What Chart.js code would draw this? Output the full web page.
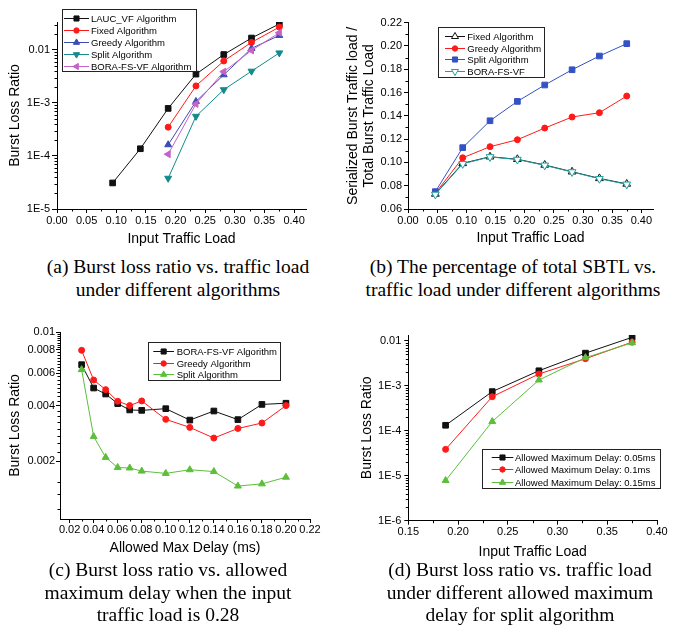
<!DOCTYPE html>
<html>
<head>
<meta charset="utf-8">
<script src="https://cdn.jsdelivr.net/npm/chart.js@4.4.1/dist/chart.umd.min.js"></script>
<style>
  body { margin: 0; background: #fff; width: 676px; height: 627px; position: relative; overflow: hidden; }
  .panel { position: absolute; }
  .cap { position: absolute; width: 340px; text-align: center; color: #000; white-space: nowrap;
         font: 19.5px/22.5px "Liberation Serif", "Times New Roman", serif; }
</style>
</head>
<body>
<canvas id="chartA" class="panel" width="338" height="252" style="left:0;top:0"></canvas>
<canvas id="chartB" class="panel" width="338" height="252" style="left:338px;top:0"></canvas>
<canvas id="chartC" class="panel" width="338" height="245" style="left:0;top:318px"></canvas>
<canvas id="chartD" class="panel" width="338" height="245" style="left:338px;top:318px"></canvas>

<div class="cap" style="left:8px;top:256px">(a) Burst loss ratio vs. traffic load<br>under different algorithms</div>
<div class="cap" style="left:343px;top:256px">(b) The percentage of total SBTL vs.<br>traffic load under different algorithms</div>
<div class="cap" style="left:-2px;top:559px">(c) Burst loss ratio vs. allowed<br>maximum delay when the input<br>traffic load is 0.28</div>
<div class="cap" style="left:350px;top:559px">(d) Burst loss ratio vs. traffic load<br>under different allowed maximum<br>delay for split algorithm</div>

<script>
// ---- data ----
const loadLauc = [0.0938, 0.1406, 0.1875, 0.2344, 0.2813, 0.3281, 0.375];
const loadHigh = [0.1875, 0.2344, 0.2813, 0.3281, 0.375];
const loadAll = [0.0469, 0.0938, 0.1406, 0.1875, 0.2344, 0.2813, 0.3281, 0.375];
const delays = [0.03, 0.04, 0.05, 0.06, 0.07, 0.08, 0.10, 0.12, 0.14, 0.16, 0.18, 0.20];

// (a) burst loss ratio vs load
const laucLoss = [3.1e-5, 1.37e-4, 7.9e-4, 3.5e-3, 8.2e-3, 0.0168, 0.031];
const fixedLoss = [3.5e-4, 2.1e-3, 6.2e-3, 0.0139, 0.027];
const greedyLoss = [1.63e-4, 1.07e-3, 3.4e-3, 0.0107, 0.0188];
const splitLoss = [3.8e-5, 5.6e-4, 1.78e-3, 3.98e-3, 8.8e-3];
const boraLoss = [1.08e-4, 9.6e-4, 3.9e-3, 9.8e-3, 0.0211];

// (b) serialized / total burst traffic load
const fixedShare = [0.0729, 0.0992, 0.1049, 0.1027, 0.0978, 0.0920, 0.0863, 0.0815];
const greedyShare = [0.0735, 0.1040, 0.1135, 0.1195, 0.1295, 0.1390, 0.1427, 0.1570];
const splitShare = [0.0749, 0.1127, 0.1358, 0.1524, 0.1665, 0.1796, 0.1914, 0.2020];
const boraShare = [0.0725, 0.0988, 0.1047, 0.1025, 0.0975, 0.0918, 0.0860, 0.0812];

// (c) burst loss ratio vs allowed max delay
const boraDelay = [0.00666, 0.00498, 0.00462, 0.0041, 0.00379, 0.00377, 0.00385, 0.00334, 0.00374, 0.00336, 0.00406, 0.00412];
const greedyDelay = [0.00796, 0.0055, 0.00488, 0.00422, 0.0040, 0.00424, 0.00337, 0.00305, 0.00267, 0.00301, 0.00322, 0.0040];
const splitDelay = [0.00626, 0.00272, 0.0021, 0.00185, 0.00184, 0.00177, 0.00172, 0.0018, 0.00176, 0.00147, 0.00151, 0.00164];

// (d) split algorithm, different allowed delays
const delay005 = [1.32e-4, 7.4e-4, 2.15e-3, 5.3e-3, 0.0119];
const delay010 = [3.85e-5, 5.7e-4, 1.82e-3, 3.98e-3, 9.3e-3];
const delay015 = [7.8e-6, 1.6e-4, 1.34e-3, 4.2e-3, 9.0e-3];

// ---- ticks ----
const loadTicks = [0, 0.05, 0.10, 0.15, 0.20, 0.25, 0.30, 0.35, 0.40];
const loadTicksD = [0.15, 0.20, 0.25, 0.30, 0.35, 0.40];
const delayTicks = [0.02, 0.04, 0.06, 0.08, 0.10, 0.12, 0.14, 0.16, 0.18, 0.20, 0.22];
const shareTicks = [0.06, 0.08, 0.10, 0.12, 0.14, 0.16, 0.18, 0.20, 0.22];
const lossTicksA = [1e-5, 1e-4, 1e-3, 0.01];
const lossLabelsA = ['1E-5', '1E-4', '1E-3', '0.01'];
const lossTicksD = [1e-6, 1e-5, 1e-4, 1e-3, 0.01];
const lossLabelsD = ['1E-6', '1E-5', '1E-4', '1E-3', '0.01'];
const delayLossTicks = [0.002, 0.004, 0.006, 0.008, 0.01];
const delayLossLabels = ['0.002', '0.004', '0.006', '0.008', '0.01'];

const fix2 = arr => arr.map(v => v.toFixed(2));

// minor tick helpers
function between(from, to, step) {
  const out = [];
  for (let v = from; v <= to + 1e-9; v += step) out.push(+v.toFixed(5));
  return out;
}
function logMinor(lo, hi) {
  const out = [];
  for (let d = lo; d < hi; d *= 10) for (let k = 2; k <= 9; k++) if (k * d <= hi) out.push(k * d);
  return out;
}

const FONT = '"Liberation Sans", Arial, sans-serif';
Chart.defaults.font.family = FONT;
Chart.defaults.color = '#000';

// legend box drawn inside the plot like Origin does
function boxLegend(g) {
  return {
    id: 'boxLegend',
    afterDraw(chart) {
      const ctx = chart.ctx;
      ctx.save();
      ctx.fillStyle = '#fff';
      ctx.fillRect(g.x, g.y, g.w, g.h);
      ctx.strokeStyle = '#222';
      ctx.lineWidth = 1;
      ctx.strokeRect(Math.round(g.x) + 0.5, Math.round(g.y) + 0.5, Math.round(g.w), Math.round(g.h));
      ctx.font = '9.5px ' + FONT;
      ctx.textBaseline = 'middle';
      chart.data.datasets.forEach((ds, i) => {
        const y = Math.round(g.y + g.first + i * g.gap) + 0.5;
        ctx.strokeStyle = ds.borderColor;
        ctx.lineWidth = 1;
        ctx.beginPath();
        ctx.moveTo(g.x + g.l1, y);
        ctx.lineTo(g.x + g.l2, y);
        ctx.stroke();
        ctx.fillStyle = ds.pointBackgroundColor;
        ctx.strokeStyle = ds.pointBorderColor;
        Chart.helpers.drawPoint(ctx, {
          pointStyle: ds.pointStyle, rotation: ds.pointRotation || 0,
          radius: ds.pointRadius * 0.9, borderWidth: 1
        }, g.x + (g.l1 + g.l2) / 2, y);
        ctx.fillStyle = '#000';
        ctx.fillText(ds.label, g.x + g.tx, y + 0.5);
      });
      ctx.restore();
    }
  };
}

function minorTicks(xs, ys) {
  return {
    id: 'minorTicks',
    afterDraw(chart) {
      const ctx = chart.ctx, sx = chart.scales.x, sy = chart.scales.y;
      ctx.save();
      ctx.strokeStyle = '#000';
      ctx.lineWidth = 1;
      ctx.beginPath();
      xs.forEach(v => {
        const p = Math.round(sx.getPixelForValue(v)) + 0.5;
        ctx.moveTo(p, sx.top); ctx.lineTo(p, sx.top + 2.5);
      });
      ys.forEach(v => {
        const p = Math.round(sy.getPixelForValue(v)) + 0.5;
        ctx.moveTo(sy.right, p); ctx.lineTo(sy.right - 2.5, p);
      });
      ctx.stroke();
      ctx.restore();
    }
  };
}

function axis(o) {
  return {
    type: o.type || 'linear',
    position: o.pos,
    min: o.min, max: o.max,
    bounds: 'data',
    afterBuildTicks: s => { s.ticks = o.ticks.map(v => ({ value: v })); },
    afterFit: s => { if (o.pos === 'left') s.width = o.size; else s.height = o.size; },
    grid: { display: true, drawOnChartArea: false, drawTicks: true, tickLength: o.tick, color: '#000', lineWidth: 1 },
    border: { display: true, color: '#000', width: 1 },
    ticks: {
      autoSkip: false, maxRotation: 0, minRotation: 0, padding: o.pad, color: '#000',
      font: { family: FONT, size: 11 },
      callback: (v, i) => o.labels[i]
    },
    title: {
      display: true, text: o.title, color: '#000',
      font: { family: FONT, size: 14, lineHeight: 1.2 },
      padding: { top: o.titlePad, bottom: o.titlePad }
    }
  };
}

function series(label, xs, ys, color, style, extra) {
  return Object.assign({
    label,
    data: xs.map((x, i) => ({ x, y: ys[i] })),
    borderColor: color, backgroundColor: color, borderWidth: 1,
    pointStyle: style, pointRadius: 3.5, pointRotation: 0,
    pointBackgroundColor: color, pointBorderColor: color, pointBorderWidth: 1,
    tension: 0, fill: false
  }, extra || {});
}

function makeChart(id, datasets, xAxis, yAxis, pad, legend, minor) {
  datasets.forEach((d, i) => { d.order = -i; });
  return new Chart(document.getElementById(id), {
    type: 'line',
    data: { datasets },
    options: {
      responsive: false, animation: false, events: [],
      layout: { padding: { top: pad.top, right: pad.right, left: 0, bottom: 0 } },
      scales: { x: axis(xAxis), y: axis(yAxis) },
      plugins: { legend: { display: false }, tooltip: { enabled: false } }
    },
    plugins: [minorTicks(minor.x, minor.y), boxLegend(legend)]
  });
}

const BLACK = '#111111', RED = '#ff1a1a', BLUE = '#3a4cb4', TEAL = '#138b8b',
      MAGENTA = '#c462c8', BLUE_B = '#3452c4', TEAL_B = '#1fa0a0', GREEN = '#5cbf3c';

// (a)
makeChart('chartA', [
  series('LAUC_VF Algorithm', loadLauc, laucLoss, BLACK, 'rect', { pointRadius: 4 }),
  series('Fixed Algorithm', loadHigh, fixedLoss, RED, 'circle', { pointRadius: 3 }),
  series('Greedy Algorithm', loadHigh, greedyLoss, BLUE, 'triangle', { pointRadius: 4 }),
  series('Split Algorithm', loadHigh, splitLoss, TEAL, 'triangle', { pointRadius: 4, pointRotation: 180 }),
  series('BORA-FS-VF Algorithm', loadHigh, boraLoss, MAGENTA, 'triangle', { pointRadius: 4, pointRotation: 270 })
],
  { pos: 'bottom', min: 0, max: 0.42, ticks: loadTicks, labels: fix2(loadTicks), size: 43, tick: 4, pad: 1,
    title: 'Input Traffic Load', titlePad: 4.3 },
  { type: 'logarithmic', pos: 'left', min: 1e-5, max: 0.0337, ticks: lossTicksA, labels: lossLabelsA, size: 57,
    tick: 5, pad: 2, title: 'Burst Loss Ratio', titlePad: 6.6 },
  { top: 22, right: 32 },
  { x: 62, y: 9, w: 134, h: 62, first: 9.3, gap: 11.8, l1: 2, l2: 27, tx: 29 },
  { x: between(0.025, 0.375, 0.05), y: logMinor(1e-5, 0.0337) }
);

// (b)
makeChart('chartB', [
  series('Fixed Algorithm', loadAll, fixedShare, BLACK, 'triangle', { pointRadius: 4.5, pointBackgroundColor: '#fff' }),
  series('Greedy Algorithm', loadAll, greedyShare, RED, 'circle', { pointRadius: 3 }),
  series('Split Algorithm', loadAll, splitShare, BLUE_B, 'rect', { pointRadius: 4 }),
  series('BORA-FS-VF', loadAll, boraShare, TEAL_B, 'triangle', { pointRadius: 4.5, pointRotation: 180, pointBackgroundColor: '#fff' })
],
  { pos: 'bottom', min: 0, max: 0.42, ticks: loadTicks, labels: fix2(loadTicks), size: 43, tick: 4, pad: 1,
    title: 'Input Traffic Load', titlePad: 5.3 },
  { pos: 'left', min: 0.06, max: 0.22, ticks: shareTicks, labels: fix2(shareTicks), size: 70, tick: 4, pad: 2,
    title: ['Serialized Burst Traffic load /', 'Total Burst Traffic Load'], titlePad: 6.3 },
  { top: 22.7, right: 23 },
  { x: 100, y: 26.5, w: 106, h: 50, first: 9.5, gap: 11.7, l1: 7, l2: 27, tx: 29.3 },
  { x: between(0.025, 0.375, 0.05), y: between(0.07, 0.21, 0.02) }
);

// (c)
makeChart('chartC', [
  series('BORA-FS-VF Algorithm', delays, boraDelay, BLACK, 'rect', { pointRadius: 4 }),
  series('Greedy Algorithm', delays, greedyDelay, RED, 'circle', { pointRadius: 3 }),
  series('Split Algorithm', delays, splitDelay, GREEN, 'triangle', { pointRadius: 4 })
],
  { pos: 'bottom', min: 0.012, max: 0.22, ticks: delayTicks, labels: fix2(delayTicks), size: 44, tick: 4, pad: 0,
    title: 'Allowed Max Delay (ms)', titlePad: 6.3 },
  { type: 'logarithmic', pos: 'left', min: 0.000975, max: 0.01, ticks: delayLossTicks, labels: delayLossLabels,
    size: 60, tick: 4, pad: 1, title: 'Burst Loss Ratio', titlePad: 6.6 },
  { top: 14, right: 28 },
  { x: 147.7, y: 23.7, w: 131.6, h: 38.3, first: 9.3, gap: 11.7, l1: 5.6, l2: 26.3, tx: 29 },
  { x: between(0.03, 0.21, 0.02),
    y: [0.0011, 0.00133, 0.00155].concat(between(0.00225, 0.00975, 0.00025).filter(v => !delayLossTicks.some(t => Math.abs(t - v) < 1e-7))) }
);

// (d)
makeChart('chartD', [
  series('Allowed Maximum Delay: 0.05ms', loadHigh, delay005, BLACK, 'rect', { pointRadius: 4 }),
  series('Allowed Maximum Delay: 0.1ms', loadHigh, delay010, RED, 'circle', { pointRadius: 3 }),
  series('Allowed Maximum Delay: 0.15ms', loadHigh, delay015, GREEN, 'triangle', { pointRadius: 4 })
],
  { pos: 'bottom', min: 0.15, max: 0.40, ticks: loadTicksD, labels: fix2(loadTicksD), size: 42.3, tick: 4, pad: 0.5,
    title: 'Input Traffic Load', titlePad: 2.9 },
  { type: 'logarithmic', pos: 'left', min: 1e-6, max: 0.0134, ticks: lossTicksD, labels: lossLabelsD, size: 70.3,
    tick: 4, pad: 3, title: 'Burst Loss Ratio', titlePad: 20.3 },
  { top: 17, right: 19 },
  { x: 143.7, y: 131.3, w: 178.3, h: 39, first: 7.4, gap: 12.5, l1: 10, l2: 31.6, tx: 33.3 },
  { x: between(0.175, 0.375, 0.05), y: logMinor(1e-6, 0.0134) }
);
</script>
</body>
</html>
